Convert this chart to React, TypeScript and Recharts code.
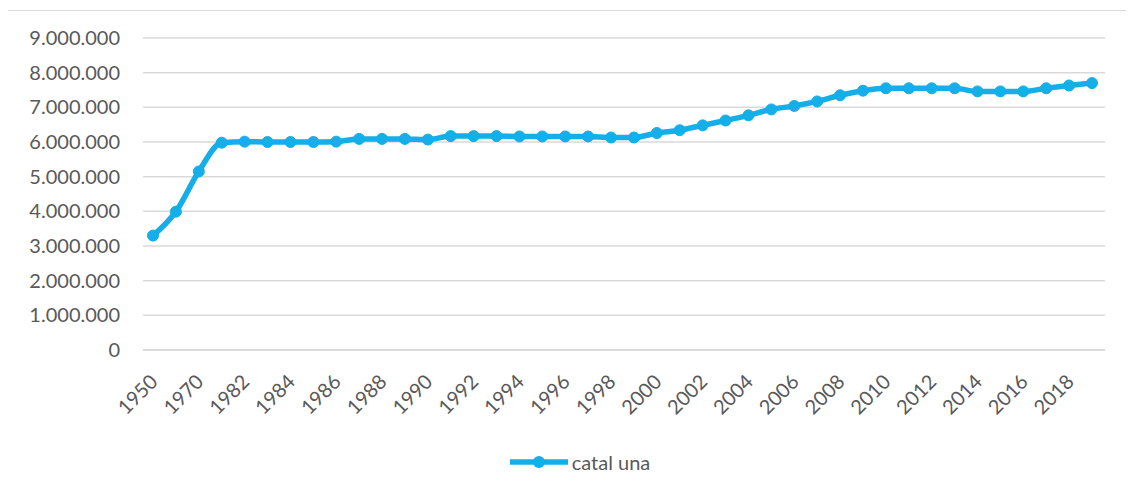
import { LineChart, Line, XAxis, YAxis, CartesianGrid, Legend } from 'recharts';

const years = [
  '1950', '1960', '1970', '1981', '1982', '1983', '1984', '1985', '1986', '1987',
  '1988', '1989', '1990', '1991', '1992', '1993', '1994', '1995', '1996', '1997',
  '1998', '1999', '2000', '2001', '2002', '2003', '2004', '2005', '2006', '2007',
  '2008', '2009', '2010', '2011', '2012', '2013', '2014', '2015', '2016', '2017',
  '2018', '2019',
];

const population = [
  3300000, 3990000, 5150000, 5980000, 6010000, 6000000, 6000000, 6000000, 6010000, 6090000,
  6090000, 6090000, 6070000, 6170000, 6170000, 6170000, 6160000, 6160000, 6160000, 6160000,
  6130000, 6130000, 6260000, 6340000, 6480000, 6620000, 6770000, 6940000, 7040000, 7170000,
  7350000, 7480000, 7550000, 7550000, 7550000, 7550000, 7460000, 7460000, 7460000, 7550000,
  7630000, 7700000,
];

const yTicks = [0, 1000000, 2000000, 3000000, 4000000, 5000000, 6000000, 7000000, 8000000, 9000000];

const seriesName = 'catal una';

const data = years.map((year, i) => ({ year, value: population[i] }));

const BLUE = '#14aee8';
const TEXT = '#595959';
const GRID = '#d9d9d9';
const FONT = 'Lato, sans-serif';

const formatThousands = (v: number) => String(v).replace(/\B(?=(\d{3})+(?!\d))/g, '.');

const YearTick = ({ x, y, payload }: any) => {
  const tx = x + 6;
  const ty = y + 33;
  return (
    <text
      x={tx}
      y={ty}
      transform={`rotate(-45, ${tx}, ${ty})`}
      textAnchor="end"
      fill={TEXT}
      fontSize={20}
      fontFamily={FONT}
    >
      {payload.value}
    </text>
  );
};

const LegendContent = () => (
  <div
    style={{
      display: 'flex',
      justifyContent: 'center',
      alignItems: 'center',
      height: 24,
      paddingLeft: 47,
      fontFamily: FONT,
      fontSize: 20,
      color: TEXT,
    }}
  >
    <svg width={58} height={14} style={{ marginRight: 4 }}>
      <line x1={0} y1={7} x2={58} y2={7} stroke={BLUE} strokeWidth={5.5} strokeLinecap="round" />
      <circle cx={29} cy={7} r={6} fill={BLUE} />
    </svg>
    <span>{seriesName}</span>
  </div>
);

export default function App() {
  return (
    <div
      style={{
        marginLeft: -1,
        marginTop: 2,
        width: 1127,
        height: 486,
        borderTop: `1px solid ${GRID}`,
        borderLeft: `1px solid ${GRID}`,
        background: '#fff',
      }}
    >
      <LineChart
        width={1126}
        height={485}
        data={data}
        margin={{ top: 27, right: 29, bottom: 22, left: 0 }}
      >
        <CartesianGrid vertical={false} stroke={GRID} strokeWidth={1.5} />
        <XAxis
          dataKey="year"
          interval={1}
          padding={{ left: 10, right: 13 }}
          tickLine={false}
          tickSize={0}
          tickMargin={0}
          axisLine={{ stroke: GRID, strokeWidth: 1.5 }}
          tick={<YearTick />}
          height={100}
        />
        <YAxis
          domain={[0, 9000000]}
          ticks={yTicks}
          width={135}
          tickLine={false}
          axisLine={false}
          tickSize={0}
          tickMargin={23}
          tickFormatter={formatThousands}
          tick={{ fill: TEXT, fontSize: 20, fontFamily: FONT }}
        />
        <Legend verticalAlign="bottom" content={<LegendContent />} />
        <Line
          type="monotone"
          dataKey="value"
          name={seriesName}
          stroke={BLUE}
          strokeWidth={5.5}
          dot={{ r: 5.5, fill: BLUE, stroke: BLUE, strokeWidth: 1 }}
          activeDot={false}
          isAnimationActive={false}
        />
      </LineChart>
    </div>
  );
}
